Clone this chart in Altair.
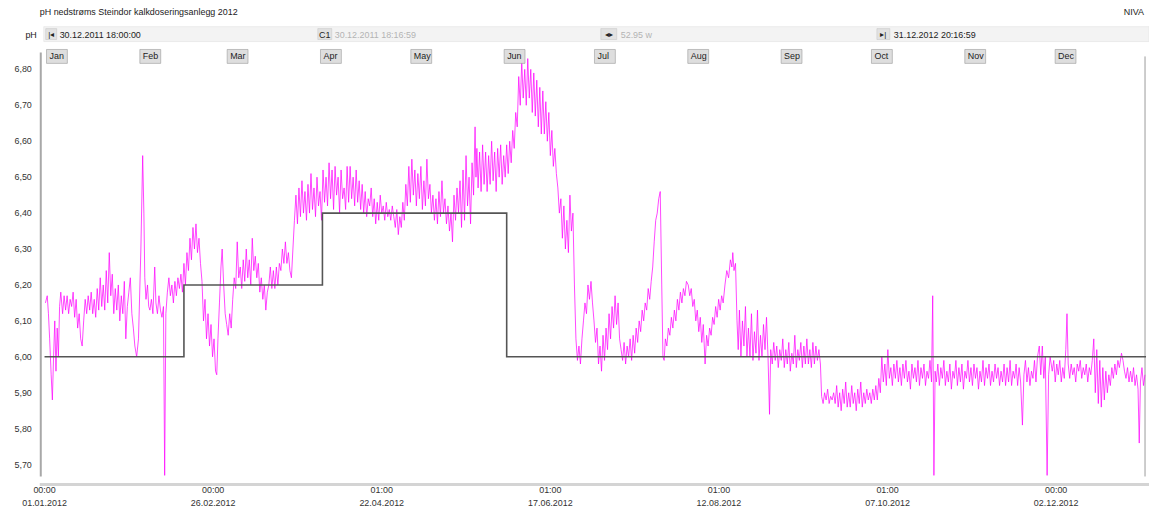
import altair as alt
import pandas as pd

FONT = "Liberation Sans"

TITLE = "pH nedstrøms Steindor kalkdoseringsanlegg 2012"
SOURCE = "NIVA"
Y_NAME = "pH"
START_LABEL = "30.12.2011 18:00:00"
CURSOR_LABEL = "30.12.2011 18:16:59"
SPAN_LABEL = "52.95 w"
END_LABEL = "31.12.2012 20:16:59"

# x axis is "days since 01.01.2012 00:00"
x_domain = [-1.25, 365.85]
y_domain = [5.667, 6.836]

month_names = ["Jan", "Feb", "Mar", "Apr", "May", "Jun", "Jul", "Aug", "Sep", "Oct", "Nov", "Dec"]
month_start_day = [0, 31, 60, 91, 121, 152, 182, 213, 244, 274, 305, 335]

tick_days = [0, 56, 112, 168, 224, 280, 336]
tick_times = ["00:00", "00:00", "01:00", "01:00", "01:00", "01:00", "00:00"]
tick_dates = ["01.01.2012", "26.02.2012", "22.04.2012", "17.06.2012", "12.08.2012", "07.10.2012", "02.12.2012"]

y_ticks = [5.7, 5.8, 5.9, 6.0, 6.1, 6.2, 6.3, 6.4, 6.5, 6.6, 6.7, 6.8]

# target (limit) pH, stepwise
limit_day = [0.0, 46.3, 92.3, 153.5, 365.85]
limit_ph = [6.0, 6.2, 6.4, 6.0, 6.0]

q1_points = [
    (0.3, 6.15), (0.9, 6.17), (1.3, 6.12), (1.7, 6.05), (2.2, 5.95), (2.6, 5.88), (3.0, 6.00), (3.4, 6.10),
    (3.8, 5.96), (4.2, 6.08), (4.6, 6.00), (5.0, 6.14), (5.4, 6.18),
    (6.0, 6.12), (6.5, 6.17), (7.0, 6.13), (7.5, 6.17), (8.0, 6.12), (8.5, 6.16), (9.0, 6.14), (9.5, 6.18),
    (10.0, 6.11), (10.5, 6.16), (11.0, 6.08), (11.5, 6.12), (12.0, 6.05), (12.5, 6.03), (13.0, 6.10),
    (13.5, 6.16), (14.0, 6.12), (14.5, 6.17), (15.0, 6.13), (15.5, 6.18), (16.0, 6.12), (16.5, 6.16),
    (17.0, 6.11), (17.5, 6.19), (18.0, 6.13), (18.5, 6.22),
    (19.0, 6.14), (19.5, 6.20), (20.0, 6.13), (20.5, 6.24), (21.0, 6.15), (21.5, 6.29), (22.0, 6.17),
    (22.5, 6.23), (23.0, 6.12),
    (23.5, 6.19), (24.0, 6.13), (24.5, 6.20), (25.0, 6.10), (25.5, 6.17), (26.0, 6.12), (26.5, 6.21),
    (27.0, 6.05), (27.5, 6.14), (28.0, 6.18), (28.5, 6.22), (29.0, 6.12), (29.5, 6.08), (30.0, 6.03),
    (30.6, 6.00), (31.2, 6.05),
    (32.0, 6.30), (32.6, 6.56), (33.0, 6.40), (33.3, 6.22), (33.7, 6.16), (34.2, 6.20), (34.6, 6.14),
    (35.0, 6.13), (35.5, 6.16), (36.0, 6.12), (36.6, 6.25), (37.0, 6.15), (37.5, 6.12), (38.0, 6.17),
    (38.5, 6.13), (39.0, 6.11), (39.5, 6.14), (39.9, 5.67), (40.3, 6.12), (40.8, 6.18), (41.3, 6.22),
    (41.8, 6.17), (42.3, 6.20), (42.8, 6.15), (43.3, 6.21), (43.8, 6.17), (44.3, 6.22), (44.8, 6.19),
    (45.3, 6.23), (45.8, 6.18),
    (46.3, 6.26), (46.8, 6.20), (47.3, 6.29), (47.8, 6.24), (48.3, 6.33), (48.8, 6.27), (49.3, 6.36),
    (49.8, 6.30), (50.3, 6.37), (50.8, 6.29), (51.3, 6.33), (51.8, 6.26),
    (52.3, 6.21), (52.8, 6.10), (53.3, 6.16), (53.8, 6.05), (54.3, 6.12), (54.8, 6.03), (55.3, 6.09),
    (55.8, 6.00), (56.3, 6.05), (56.8, 5.96), (57.2, 5.95),
    (57.6, 6.05), (58.1, 6.15), (58.6, 6.25), (59.0, 6.30), (59.5, 6.20), (60.0, 6.12), (60.5, 6.09),
    (61.0, 6.06), (61.5, 6.12), (62.0, 6.08),
    (62.5, 6.16), (63.0, 6.22), (63.5, 6.19), (64.0, 6.32), (64.5, 6.22), (65.0, 6.25), (65.5, 6.19),
    (66.0, 6.27), (66.5, 6.21), (67.0, 6.30), (67.5, 6.22), (68.0, 6.27), (68.5, 6.20), (69.0, 6.33),
    (69.5, 6.24), (70.0, 6.28),
    (70.5, 6.22), (71.0, 6.26), (71.5, 6.18), (72.0, 6.22), (72.5, 6.16), (73.0, 6.20), (73.5, 6.13),
    (74.0, 6.18),
    (74.5, 6.20), (75.0, 6.25), (75.5, 6.19), (76.0, 6.24), (76.5, 6.19), (77.0, 6.25), (77.5, 6.20),
    (78.0, 6.26),
    (78.5, 6.24), (79.0, 6.30), (79.5, 6.26), (80.0, 6.32), (80.5, 6.26), (81.0, 6.29), (81.5, 6.24),
    (82.0, 6.22), (82.5, 6.30),
    (83.0, 6.38), (83.5, 6.45), (84.0, 6.37), (84.5, 6.47), (85.0, 6.39), (85.5, 6.49), (86.0, 6.40),
    (86.5, 6.46), (87.0, 6.38),
    (87.5, 6.48), (88.0, 6.40), (88.5, 6.51), (89.0, 6.41), (89.5, 6.47), (90.0, 6.39), (90.5, 6.50),
    (91.0, 6.42),
]
q2_points = [
    (91.5, 6.46), (92.0, 6.38), (92.5, 6.52), (93.0, 6.43), (93.5, 6.50),
    (94.0, 6.42), (94.5, 6.54), (95.0, 6.44), (95.5, 6.52), (96.0, 6.41), (96.5, 6.53), (97.0, 6.45),
    (97.5, 6.50), (98.0, 6.40), (98.5, 6.52), (99.0, 6.44), (99.5, 6.47), (100.0, 6.41), (100.5, 6.53),
    (101.0, 6.43), (101.5, 6.53), (102.0, 6.44), (102.5, 6.50), (103.0, 6.42), (103.5, 6.52), (104.0, 6.43),
    (104.5, 6.49), (105.0, 6.41), (105.5, 6.48), (106.0, 6.40), (106.5, 6.46), (107.0, 6.39), (107.5, 6.44),
    (108.0, 6.42), (108.5, 6.47), (109.0, 6.39), (109.5, 6.44), (110.0, 6.37), (110.5, 6.43), (111.0, 6.38),
    (111.5, 6.45), (112.0, 6.40), (112.5, 6.42), (113.0, 6.38), (113.5, 6.43), (114.0, 6.39), (114.5, 6.41),
    (115.0, 6.38), (115.5, 6.42), (116.0, 6.39),
    (116.5, 6.36), (117.0, 6.41), (117.5, 6.34), (118.0, 6.39), (118.5, 6.36), (119.0, 6.43), (119.5, 6.38),
    (120.0, 6.48), (120.5, 6.42), (121.0, 6.53), (121.5, 6.43), (122.0, 6.55), (122.5, 6.45), (123.0, 6.52),
    (123.5, 6.42), (124.0, 6.51), (124.5, 6.44), (125.0, 6.53), (125.5, 6.41), (126.0, 6.49), (126.5, 6.42),
    (127.0, 6.55), (127.5, 6.44), (128.0, 6.48), (128.5, 6.40), (129.0, 6.45),
    (129.5, 6.38), (130.0, 6.44), (130.5, 6.37), (131.0, 6.46), (131.5, 6.39), (132.0, 6.49), (132.5, 6.40),
    (133.0, 6.44), (133.5, 6.37), (134.0, 6.42), (134.5, 6.35), (135.0, 6.40), (135.5, 6.32), (136.0, 6.45),
    (136.5, 6.38), (137.0, 6.47), (137.5, 6.40),
    (138.0, 6.49), (138.5, 6.36), (139.0, 6.52), (139.5, 6.38), (140.0, 6.56), (140.5, 6.42), (141.0, 6.50),
    (141.5, 6.37), (142.0, 6.54), (142.5, 6.45), (143.0, 6.64), (143.3, 6.50),
    (143.6, 6.58), (144.0, 6.47), (144.5, 6.57), (145.0, 6.46), (145.5, 6.59), (146.0, 6.48), (146.5, 6.57),
    (147.0, 6.46), (147.5, 6.56), (148.0, 6.48), (148.5, 6.60), (149.0, 6.49), (149.5, 6.57), (150.0, 6.46),
    (150.5, 6.58), (151.0, 6.50), (151.5, 6.59), (152.0, 6.48), (152.5, 6.56), (153.0, 6.50), (153.5, 6.59),
    (154.0, 6.51), (154.5, 6.60), (155.0, 6.54), (155.5, 6.63),
    (156.0, 6.58), (156.5, 6.68), (157.0, 6.64), (157.5, 6.78),
    (158.0, 6.70), (158.5, 6.82), (159.0, 6.72), (159.5, 6.80), (160.0, 6.70),
    (160.5, 6.83), (161.0, 6.72), (161.5, 6.80), (162.0, 6.68), (162.5, 6.79), (163.0, 6.67), (163.5, 6.77),
    (164.0, 6.64), (164.5, 6.75), (165.0, 6.62), (165.5, 6.74), (166.0, 6.62), (166.5, 6.71), (167.0, 6.60),
    (167.5, 6.68), (168.0, 6.56), (168.5, 6.63), (169.0, 6.53),
    (169.5, 6.58), (170.0, 6.51), (170.5, 6.47), (171.0, 6.40), (171.5, 6.44), (172.0, 6.33), (172.5, 6.42),
    (173.0, 6.30), (173.5, 6.38), (174.0, 6.29), (174.5, 6.45), (175.0, 6.35), (175.5, 6.40),
    (176.0, 6.20), (176.5, 6.05), (177.0, 5.99), (177.5, 6.03), (178.0, 5.98),
    (178.5, 6.05), (179.0, 6.10), (179.5, 6.15), (180.0, 6.12), (180.5, 6.20), (181.0, 6.16), (181.5, 6.21),
    (182.0, 6.15),
]
q3_points = [
    (182.5, 6.10), (183.0, 6.04), (183.5, 6.08), (184.0, 5.98), (184.5, 6.03), (185.0, 5.96), (185.5, 6.06),
    (186.0, 5.99), (186.5, 6.08), (187.0, 6.02), (187.5, 6.12),
    (188.0, 6.05), (188.5, 6.14), (189.0, 6.08), (189.5, 6.17), (190.0, 6.09), (190.5, 6.15), (191.0, 6.05),
    (191.5, 6.02), (192.0, 5.99), (192.5, 6.04), (193.0, 5.98), (193.5, 6.03), (194.0, 6.00), (194.5, 6.05),
    (195.0, 5.99), (195.5, 6.06), (196.0, 6.01),
    (196.5, 6.08), (197.0, 6.04), (197.5, 6.10), (198.0, 6.07), (198.5, 6.13), (199.0, 6.10), (199.5, 6.15),
    (200.0, 6.13), (200.5, 6.19), (201.0, 6.16), (201.5, 6.21),
    (202.0, 6.25), (202.5, 6.32), (203.0, 6.38), (203.5, 6.40), (204.0, 6.44), (204.5, 6.46),
    (205.0, 6.20), (205.4, 6.00), (205.8, 5.99),
    (206.2, 6.05), (206.7, 6.03), (207.2, 6.08), (207.7, 6.06), (208.2, 6.11), (208.7, 6.08), (209.2, 6.13),
    (209.7, 6.10), (210.2, 6.16), (210.7, 6.13), (211.2, 6.18), (211.7, 6.15), (212.2, 6.19), (212.7, 6.17),
    (213.2, 6.21), (213.8, 6.20),
    (214.3, 6.17), (214.8, 6.19), (215.3, 6.14), (215.8, 6.16), (216.3, 6.10), (216.8, 6.13), (217.3, 6.07),
    (217.8, 6.11), (218.3, 6.04), (218.8, 6.09), (219.4, 5.98), (219.9, 6.06), (220.4, 6.03),
    (220.9, 6.08), (221.4, 6.06), (221.9, 6.11), (222.4, 6.09), (222.9, 6.14), (223.4, 6.11), (223.9, 6.16),
    (224.4, 6.13), (224.9, 6.17), (225.4, 6.15),
    (226.0, 6.20), (226.6, 6.24), (227.2, 6.22), (227.8, 6.27), (228.3, 6.25), (228.6, 6.29), (229.0, 6.24),
    (229.5, 6.26),
    (230.0, 6.10), (230.4, 6.02), (230.8, 6.13), (231.3, 6.00), (231.8, 6.10), (232.3, 6.03), (232.8, 6.14),
    (233.3, 6.00),
    (233.8, 6.08), (234.3, 6.00), (234.8, 6.12), (235.3, 5.99), (235.8, 6.07), (236.3, 6.01), (236.8, 6.13),
    (237.3, 5.99), (237.8, 6.06), (238.3, 6.00), (238.8, 6.09), (239.3, 6.02), (239.8, 6.11),
    (240.3, 6.00), (240.8, 5.84), (241.2, 6.02),
    (241.7, 5.98), (242.2, 6.04), (242.7, 5.99), (243.2, 6.03), (243.7, 5.97), (244.2, 6.02), (244.7, 5.99),
    (245.2, 6.05), (245.7, 5.97), (246.2, 6.02), (246.7, 5.98), (247.2, 6.04), (247.7, 5.96), (248.2, 6.01),
    (248.7, 5.98), (249.2, 6.06), (249.7, 5.97), (250.2, 6.02), (250.7, 5.99), (251.2, 6.04), (251.7, 5.97),
    (252.2, 6.03), (252.7, 5.98), (253.2, 6.05), (253.7, 5.98), (254.2, 6.02), (254.7, 5.97), (255.2, 6.04),
    (255.7, 5.98), (256.2, 6.03), (256.7, 5.99), (257.2, 6.02), (257.7, 5.98),
    (258.1, 5.89), (258.6, 5.87), (259.1, 5.90), (259.6, 5.88), (260.1, 5.91), (260.6, 5.87), (261.1, 5.89),
    (261.6, 5.88), (262.1, 5.90), (262.6, 5.87), (263.1, 5.92), (263.6, 5.86), (264.1, 5.90), (264.6, 5.85),
    (265.1, 5.91), (265.6, 5.87), (266.1, 5.93), (266.6, 5.86), (267.1, 5.90), (267.6, 5.86), (268.1, 5.92),
    (268.6, 5.87), (269.1, 5.90), (269.6, 5.85), (270.1, 5.91), (270.6, 5.87), (271.1, 5.93), (271.6, 5.86),
    (272.1, 5.90), (272.6, 5.87), (273.1, 5.91), (273.6, 5.88),
]
q4_points = [
    (274.1, 5.90), (274.6, 5.87), (275.1, 5.91), (275.6, 5.88), (276.1, 5.92), (276.6, 5.88), (277.1, 5.94),
    (277.6, 5.90),
    (278.1, 6.00), (278.6, 5.93), (279.1, 5.98), (279.6, 5.92), (280.1, 6.02), (280.6, 5.94), (281.1, 5.97),
    (281.6, 5.92), (282.1, 5.98), (282.6, 5.94), (283.1, 5.99), (283.6, 5.93), (284.1, 5.97), (284.6, 5.92),
    (285.1, 5.98), (285.6, 5.94), (286.1, 5.99), (286.6, 5.93), (287.1, 5.96), (287.6, 5.91), (288.1, 5.98),
    (288.6, 5.94), (289.1, 5.97), (289.6, 5.93), (290.1, 5.99), (290.6, 5.92), (291.1, 5.97), (291.6, 5.94),
    (292.1, 5.98), (292.6, 5.92), (293.1, 5.96), (293.6, 5.94), (294.1, 5.99), (294.6, 5.93),
    (295.0, 6.17), (295.4, 5.67), (295.8, 5.96),
    (296.2, 5.93), (296.7, 5.98), (297.2, 5.92), (297.7, 5.97), (298.2, 5.94), (298.7, 5.99), (299.2, 5.92),
    (299.7, 5.96), (300.2, 5.93), (300.7, 5.98), (301.2, 5.91), (301.7, 5.96), (302.2, 5.94), (302.7, 5.99),
    (303.2, 5.92), (303.7, 5.97), (304.2, 5.93), (304.7, 5.98), (305.2, 5.91), (305.7, 5.96), (306.2, 5.94),
    (306.7, 5.99), (307.2, 5.93), (307.7, 5.97), (308.2, 5.92), (308.7, 5.98), (309.2, 5.94), (309.7, 5.97),
    (310.2, 5.91), (310.7, 5.96), (311.2, 5.93), (311.7, 5.99), (312.2, 5.92), (312.7, 5.97), (313.2, 5.94),
    (313.7, 5.98), (314.2, 5.92), (314.7, 5.96), (315.2, 5.93), (315.7, 5.98), (316.2, 5.94), (316.7, 5.97),
    (317.2, 5.92), (317.7, 5.96), (318.2, 5.93), (318.7, 5.98), (319.2, 5.92), (319.7, 5.97), (320.2, 5.93),
    (320.7, 5.99), (321.2, 5.92), (321.7, 5.96), (322.2, 5.94), (322.7, 5.98), (323.2, 5.92), (323.7, 5.97),
    (324.2, 5.93), (324.8, 5.81), (325.3, 5.95), (325.8, 5.99), (326.3, 5.93), (326.8, 5.97), (327.3, 5.92),
    (327.8, 5.96), (328.3, 5.94), (328.8, 5.99), (329.3, 5.93), (329.8, 6.00), (330.4, 6.03), (330.9, 5.95),
    (331.4, 6.03), (331.9, 5.94), (332.4, 6.00), (333.0, 5.67), (333.5, 5.95), (334.0, 6.00), (334.7, 5.96),
    (335.2, 5.99), (335.7, 5.93), (336.2, 5.98), (336.7, 5.95), (337.2, 5.99), (337.7, 5.93), (338.2, 5.97),
    (338.7, 5.94), (339.2, 6.02), (339.6, 6.12), (340.0, 5.98), (340.5, 5.94), (341.0, 5.98), (341.5, 5.95),
    (342.0, 5.97), (342.5, 5.93), (343.0, 5.98), (343.5, 5.96), (344.0, 5.99), (344.5, 5.94), (345.0, 5.97),
    (345.5, 5.95), (346.0, 5.98), (346.5, 5.93), (347.0, 5.97), (347.5, 5.95), (348.0, 5.99), (348.5, 6.05),
    (349.0, 5.90), (349.5, 6.02), (350.0, 5.87), (350.5, 5.99), (351.0, 5.86), (351.5, 5.97), (352.0, 5.88),
    (352.5, 5.96), (353.0, 5.90), (353.5, 5.95), (354.0, 5.92), (354.5, 5.97), (355.0, 5.94), (355.5, 5.98),
    (356.0, 5.95), (356.5, 5.99), (357.0, 5.97), (357.7, 6.01), (358.2, 5.99), (358.7, 5.96), (359.2, 5.94),
    (359.7, 5.97), (360.2, 5.93), (360.7, 5.96), (361.2, 5.93), (361.7, 5.97), (362.2, 5.92), (362.7, 5.95),
    (363.2, 5.91), (363.6, 5.76), (364.0, 5.93), (364.5, 5.97), (365.0, 5.92), (365.5, 5.95),
]

# ---------------------------------------------------------------- tables
all_points = q1_points + q2_points + q3_points + q4_points
ph_df = pd.DataFrame(all_points, columns=["day", "ph"])
limit_df = pd.DataFrame({"day": limit_day, "ph": limit_ph})
month_df = pd.DataFrame({"start": month_start_day, "name": month_names})
ytick_df = pd.DataFrame({
    "v": y_ticks,
    "label": [f"{v:.2f}".replace(".", ",") for v in y_ticks],
})
xtick_df = pd.DataFrame({
    "day": tick_days,
    "label": [f"{t}\n{d}" for t, d in zip(tick_times, tick_dates)],
})

W, H = 1113, 423

xscale = alt.Scale(domain=x_domain, nice=False, zero=False)
yscale = alt.Scale(domain=y_domain, nice=False, zero=False)

X = lambda f: alt.X(f, scale=xscale, axis=None)
Y = lambda f: alt.Y(f, scale=yscale, axis=None)

ph_line = alt.Chart(ph_df).mark_line(color="#ff00ff", strokeWidth=1, opacity=0.72).encode(
    x=X("day:Q"), y=Y("ph:Q"),
)

limit_line = alt.Chart(limit_df).mark_line(
    color="#555555", strokeWidth=1.6, interpolate="step-after"
).encode(x=X("day:Q"), y=Y("ph:Q"))

y_labels = alt.Chart(ytick_df).mark_text(
    align="right", baseline="middle", fontSize=9, font=FONT, color="#333333"
).encode(x=alt.value(-9), y=Y("v:Q"), text="label:N")

x_labels = alt.Chart(xtick_df).mark_text(
    align="center", baseline="top", fontSize=9, font=FONT, color="#333333",
    lineBreak="\n", lineHeight=13,
).encode(x=X("day:Q"), y=alt.value(H + 10), text="label:N")

month_boxes = alt.Chart(month_df).mark_rect(
    fill="#dedede", stroke="#9a9a9a", strokeWidth=0.6, xOffset=2, x2Offset=23
).encode(
    x=X("start:Q"),
    x2="start:Q",
    y=alt.value(-7),
    y2=alt.value(7),
)
month_text = alt.Chart(month_df).mark_text(
    align="left", baseline="middle", dx=5, fontSize=9, font=FONT, color="#222222"
).encode(x=X("start:Q"), y=alt.value(0), text="name:N")

one = alt.Data(values=[{"k": 0}])


def label(text, x, y, align="left", color="#222222", size=9):
    return alt.Chart(one).mark_text(
        text=text, align=align, baseline="middle", fontSize=size, font=FONT, color=color
    ).encode(x=alt.value(x), y=alt.value(y))


def box(x, x2, y, y2, fill, stroke="#c8c8c8"):
    return alt.Chart(one).mark_rect(fill=fill, stroke=stroke, strokeWidth=0.6).encode(
        x=alt.value(x), x2=alt.value(x2), y=alt.value(y), y2=alt.value(y2)
    )


def hline(x, x2, y, color, width):
    return alt.Chart(one).mark_rule(color=color, strokeWidth=width).encode(
        x=alt.value(x), x2=alt.value(x2), y=alt.value(y)
    )


def vline(x, y, y2, color, width):
    return alt.Chart(one).mark_rule(color=color, strokeWidth=width).encode(
        x=alt.value(x), y=alt.value(y), y2=alt.value(y2)
    )


header = [
    label(TITLE, -1, -45),
    label(SOURCE, 1111, -45, align="right"),
    box(3, 1116, -30, -15, "#f3f3f3", "#e2e2e2"),
    label(Y_NAME, -4, -22, align="right"),
    box(5, 16, -28, -17, "#e2e2e2"),
    label("|◂", 10.5, -22, align="center", size=8),
    label(START_LABEL, 19, -22),
    box(279, 293, -28, -17, "#e2e2e2"),
    label("C1", 286, -22, align="center"),
    label(CURSOR_LABEL, 296, -22, color="#b4b4b4"),
    box(564, 580, -28, -17, "#e2e2e2"),
    label("◂▸", 572, -22, align="center", size=8),
    label(SPAN_LABEL, 584, -22, color="#b4b4b4"),
    box(842, 855, -28, -17, "#e2e2e2"),
    label("▸|", 848.5, -22, align="center", size=8),
    label(END_LABEL, 859, -22),
]

frame = [
    vline(0, -4, H, "#a8a8a8", 2),
    vline(W - 1, 0, H, "#9a9a9a", 1),
    hline(-1, W + 3, H + 8, "#d4d4d4", 3),
]

chart = alt.layer(
    *header, *frame, ph_line, limit_line, month_boxes, month_text, y_labels, x_labels
).properties(
    width=W,
    height=H,
    autosize=alt.AutoSizeParams(type="none"),
    padding={"left": 33, "top": 47, "right": 3, "bottom": 34},
    background="white",
).configure_view(stroke=None)

chart.save("out.html", embed_options={"renderer": "svg", "actions": False})
